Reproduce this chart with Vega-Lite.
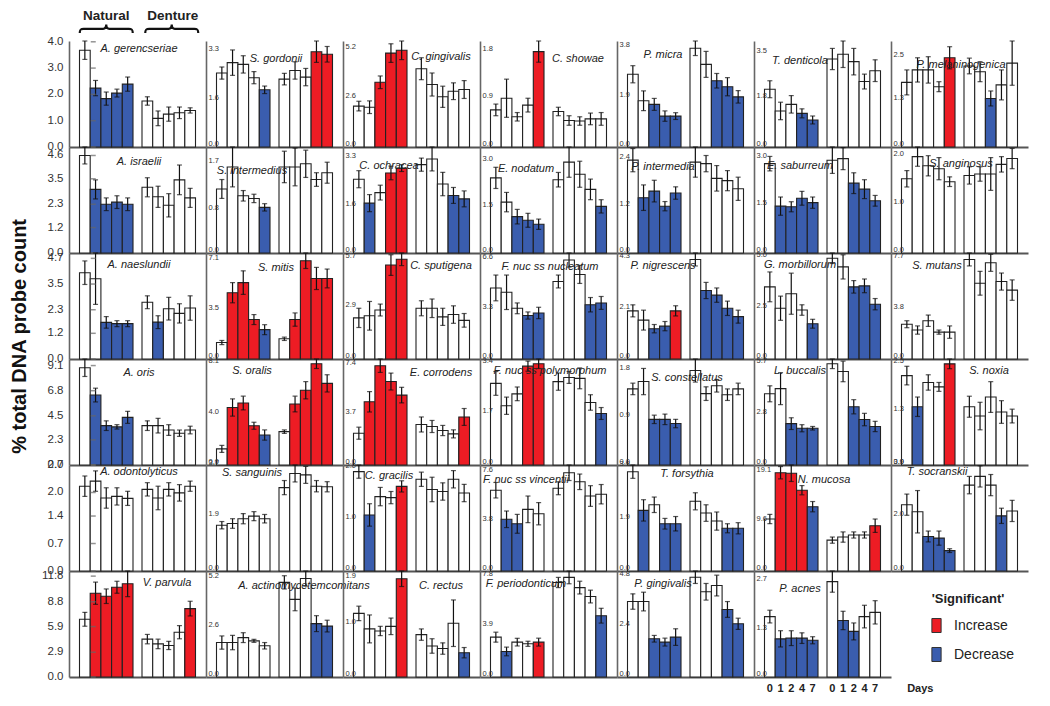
{
"$schema":"https://vega.github.io/schema/vega-lite/v6.json",
"background":"white",
"bounds":"flush",
"padding":{"left":9,"top":-2,"right":5,"bottom":5},
"title":{"text":"% total DNA probe count","orient":"left","anchor":"middle","fontSize":20,"fontWeight":"bold","color":"#111","offset":12,"dx":10},
"data":{"values":[
{"s":"A. gerencseriae","g":"N","d":0,"m":3.68,"e":0.35,"c":"n"},{"s":"A. gerencseriae","g":"N","d":1,"m":2.24,"e":0.29,"c":"d"},{"s":"A. gerencseriae","g":"N","d":2,"m":1.84,"e":0.25,"c":"d"},{"s":"A. gerencseriae","g":"N","d":4,"m":2.05,"e":0.15,"c":"d"},{"s":"A. gerencseriae","g":"N","d":7,"m":2.39,"e":0.27,"c":"d"},
{"s":"A. gerencseriae","g":"D","d":0,"m":1.75,"e":0.16,"c":"n"},{"s":"A. gerencseriae","g":"D","d":1,"m":1.09,"e":0.28,"c":"n"},{"s":"A. gerencseriae","g":"D","d":2,"m":1.25,"e":0.27,"c":"n"},{"s":"A. gerencseriae","g":"D","d":4,"m":1.30,"e":0.22,"c":"n"},{"s":"A. gerencseriae","g":"D","d":7,"m":1.39,"e":0.10,"c":"n"},
{"s":"S. gordonii","g":"N","d":0,"m":2.56,"e":0.21,"c":"n"},{"s":"S. gordonii","g":"N","d":1,"m":2.92,"e":0.44,"c":"n"},{"s":"S. gordonii","g":"N","d":2,"m":2.86,"e":0.30,"c":"n"},{"s":"S. gordonii","g":"N","d":4,"m":2.40,"e":0.21,"c":"n"},{"s":"S. gordonii","g":"N","d":7,"m":1.98,"e":0.13,"c":"d"},
{"s":"S. gordonii","g":"D","d":0,"m":2.35,"e":0.20,"c":"n"},{"s":"S. gordonii","g":"D","d":1,"m":2.65,"e":0.30,"c":"n"},{"s":"S. gordonii","g":"D","d":2,"m":2.42,"e":0.30,"c":"n"},{"s":"S. gordonii","g":"D","d":4,"m":3.30,"e":0.37,"c":"i"},{"s":"S. gordonii","g":"D","d":7,"m":3.21,"e":0.27,"c":"i"},
{"s":"C. gingivalis","g":"N","d":0,"m":2.20,"e":0.26,"c":"n"},{"s":"C. gingivalis","g":"N","d":1,"m":2.14,"e":0.34,"c":"n"},{"s":"C. gingivalis","g":"N","d":2,"m":3.48,"e":0.34,"c":"i"},{"s":"C. gingivalis","g":"N","d":4,"m":5.05,"e":0.50,"c":"i"},{"s":"C. gingivalis","g":"N","d":7,"m":5.20,"e":0.50,"c":"i"},
{"s":"C. gingivalis","g":"D","d":0,"m":4.21,"e":0.59,"c":"n"},{"s":"C. gingivalis","g":"D","d":1,"m":3.36,"e":0.62,"c":"n"},{"s":"C. gingivalis","g":"D","d":2,"m":2.70,"e":0.57,"c":"n"},{"s":"C. gingivalis","g":"D","d":4,"m":3.00,"e":0.45,"c":"n"},{"s":"C. gingivalis","g":"D","d":7,"m":3.09,"e":0.48,"c":"n"},
{"s":"C. showae","g":"N","d":0,"m":0.70,"e":0.11,"c":"n"},{"s":"C. showae","g":"N","d":1,"m":0.92,"e":0.36,"c":"n"},{"s":"C. showae","g":"N","d":2,"m":0.57,"e":0.08,"c":"n"},{"s":"C. showae","g":"N","d":4,"m":0.79,"e":0.13,"c":"n"},{"s":"C. showae","g":"N","d":7,"m":1.80,"e":0.20,"c":"i"},
{"s":"C. showae","g":"D","d":0,"m":0.67,"e":0.08,"c":"n"},{"s":"C. showae","g":"D","d":1,"m":0.50,"e":0.09,"c":"n"},{"s":"C. showae","g":"D","d":2,"m":0.49,"e":0.08,"c":"n"},{"s":"C. showae","g":"D","d":4,"m":0.53,"e":0.11,"c":"n"},{"s":"C. showae","g":"D","d":7,"m":0.53,"e":0.12,"c":"n"},
{"s":"P. micra","g":"N","d":0,"m":2.80,"e":0.33,"c":"n"},{"s":"P. micra","g":"N","d":1,"m":1.78,"e":0.38,"c":"n"},{"s":"P. micra","g":"N","d":2,"m":1.64,"e":0.23,"c":"d"},{"s":"P. micra","g":"N","d":4,"m":1.19,"e":0.20,"c":"d"},{"s":"P. micra","g":"N","d":7,"m":1.19,"e":0.13,"c":"d"},
{"s":"P. micra","g":"D","d":0,"m":3.80,"e":0.28,"c":"n"},{"s":"P. micra","g":"D","d":1,"m":3.18,"e":0.50,"c":"n"},{"s":"P. micra","g":"D","d":2,"m":2.55,"e":0.28,"c":"d"},{"s":"P. micra","g":"D","d":4,"m":2.32,"e":0.35,"c":"d"},{"s":"P. micra","g":"D","d":7,"m":1.93,"e":0.24,"c":"d"},
{"s":"T. denticola","g":"N","d":0,"m":2.18,"e":0.32,"c":"n"},{"s":"T. denticola","g":"N","d":1,"m":1.36,"e":0.33,"c":"n"},{"s":"T. denticola","g":"N","d":2,"m":1.61,"e":0.33,"c":"n"},{"s":"T. denticola","g":"N","d":4,"m":1.27,"e":0.17,"c":"d"},{"s":"T. denticola","g":"N","d":7,"m":1.02,"e":0.15,"c":"d"},
{"s":"T. denticola","g":"D","d":0,"m":3.32,"e":0.40,"c":"n"},{"s":"T. denticola","g":"D","d":1,"m":3.50,"e":0.50,"c":"n"},{"s":"T. denticola","g":"D","d":2,"m":3.22,"e":0.50,"c":"n"},{"s":"T. denticola","g":"D","d":4,"m":2.47,"e":0.28,"c":"n"},{"s":"T. denticola","g":"D","d":7,"m":2.88,"e":0.41,"c":"n"},
{"s":"P. melaninogenica","g":"N","d":0,"m":1.81,"e":0.35,"c":"n"},{"s":"P. melaninogenica","g":"N","d":1,"m":2.16,"e":0.34,"c":"n"},{"s":"P. melaninogenica","g":"N","d":2,"m":2.16,"e":0.37,"c":"n"},{"s":"P. melaninogenica","g":"N","d":4,"m":1.69,"e":0.14,"c":"n"},{"s":"P. melaninogenica","g":"N","d":7,"m":2.50,"e":0.31,"c":"i"},
{"s":"P. melaninogenica","g":"D","d":0,"m":2.27,"e":0.22,"c":"n"},{"s":"P. melaninogenica","g":"D","d":1,"m":2.11,"e":0.28,"c":"n"},{"s":"P. melaninogenica","g":"D","d":2,"m":1.36,"e":0.21,"c":"d"},{"s":"P. melaninogenica","g":"D","d":4,"m":1.74,"e":0.42,"c":"n"},{"s":"P. melaninogenica","g":"D","d":7,"m":2.35,"e":0.62,"c":"n"},
{"s":"A. israelii","g":"N","d":0,"m":4.60,"e":0.40,"c":"n"},{"s":"A. israelii","g":"N","d":1,"m":3.00,"e":0.45,"c":"d"},{"s":"A. israelii","g":"N","d":2,"m":2.30,"e":0.30,"c":"d"},{"s":"A. israelii","g":"N","d":4,"m":2.40,"e":0.30,"c":"d"},{"s":"A. israelii","g":"N","d":7,"m":2.30,"e":0.30,"c":"d"},
{"s":"A. israelii","g":"D","d":0,"m":3.10,"e":0.45,"c":"n"},{"s":"A. israelii","g":"D","d":1,"m":2.65,"e":0.50,"c":"n"},{"s":"A. israelii","g":"D","d":2,"m":2.25,"e":0.55,"c":"n"},{"s":"A. israelii","g":"D","d":4,"m":3.45,"e":0.70,"c":"n"},{"s":"A. israelii","g":"D","d":7,"m":2.60,"e":0.45,"c":"n"},
{"s":"S. intermedius","g":"N","d":0,"m":1.22,"e":0.18,"c":"n"},{"s":"S. intermedius","g":"N","d":1,"m":1.64,"e":0.38,"c":"n"},{"s":"S. intermedius","g":"N","d":2,"m":1.09,"e":0.10,"c":"n"},{"s":"S. intermedius","g":"N","d":4,"m":1.04,"e":0.08,"c":"n"},{"s":"S. intermedius","g":"N","d":7,"m":0.87,"e":0.07,"c":"d"},
{"s":"S. intermedius","g":"D","d":0,"m":1.64,"e":0.30,"c":"n"},{"s":"S. intermedius","g":"D","d":1,"m":1.64,"e":0.36,"c":"n"},{"s":"S. intermedius","g":"D","d":2,"m":1.70,"e":0.26,"c":"n"},{"s":"S. intermedius","g":"D","d":4,"m":1.40,"e":0.13,"c":"n"},{"s":"S. intermedius","g":"D","d":7,"m":1.53,"e":0.20,"c":"n"},
{"s":"C. ochracea","g":"N","d":0,"m":2.59,"e":0.30,"c":"n"},{"s":"C. ochracea","g":"N","d":1,"m":1.75,"e":0.30,"c":"d"},{"s":"C. ochracea","g":"N","d":2,"m":2.12,"e":0.26,"c":"n"},{"s":"C. ochracea","g":"N","d":4,"m":2.81,"e":0.24,"c":"i"},{"s":"C. ochracea","g":"N","d":7,"m":2.98,"e":0.12,"c":"i"},
{"s":"C. ochracea","g":"D","d":0,"m":3.10,"e":0.23,"c":"n"},{"s":"C. ochracea","g":"D","d":1,"m":3.30,"e":0.42,"c":"n"},{"s":"C. ochracea","g":"D","d":2,"m":2.42,"e":0.41,"c":"n"},{"s":"C. ochracea","g":"D","d":4,"m":2.02,"e":0.28,"c":"d"},{"s":"C. ochracea","g":"D","d":7,"m":1.90,"e":0.28,"c":"d"},
{"s":"E. nodatum","g":"N","d":0,"m":2.48,"e":0.35,"c":"n"},{"s":"E. nodatum","g":"N","d":1,"m":1.68,"e":0.32,"c":"n"},{"s":"E. nodatum","g":"N","d":2,"m":1.20,"e":0.24,"c":"d"},{"s":"E. nodatum","g":"N","d":4,"m":1.08,"e":0.23,"c":"d"},{"s":"E. nodatum","g":"N","d":7,"m":0.95,"e":0.17,"c":"d"},
{"s":"E. nodatum","g":"D","d":0,"m":2.42,"e":0.24,"c":"n"},{"s":"E. nodatum","g":"D","d":1,"m":3.00,"e":0.50,"c":"n"},{"s":"E. nodatum","g":"D","d":2,"m":2.60,"e":0.43,"c":"n"},{"s":"E. nodatum","g":"D","d":4,"m":2.10,"e":0.34,"c":"n"},{"s":"E. nodatum","g":"D","d":7,"m":1.54,"e":0.22,"c":"d"},
{"s":"P. intermedia","g":"N","d":0,"m":2.40,"e":0.30,"c":"n"},{"s":"P. intermedia","g":"N","d":1,"m":1.43,"e":0.33,"c":"d"},{"s":"P. intermedia","g":"N","d":2,"m":1.60,"e":0.28,"c":"d"},{"s":"P. intermedia","g":"N","d":4,"m":1.21,"e":0.12,"c":"d"},{"s":"P. intermedia","g":"N","d":7,"m":1.55,"e":0.16,"c":"d"},
{"s":"P. intermedia","g":"D","d":0,"m":2.35,"e":0.39,"c":"n"},{"s":"P. intermedia","g":"D","d":1,"m":2.31,"e":0.21,"c":"n"},{"s":"P. intermedia","g":"D","d":2,"m":1.93,"e":0.33,"c":"n"},{"s":"P. intermedia","g":"D","d":4,"m":1.87,"e":0.26,"c":"n"},{"s":"P. intermedia","g":"D","d":7,"m":1.66,"e":0.30,"c":"n"},
{"s":"E. saburreum","g":"N","d":0,"m":2.84,"e":0.23,"c":"n"},{"s":"E. saburreum","g":"N","d":1,"m":1.49,"e":0.29,"c":"d"},{"s":"E. saburreum","g":"N","d":2,"m":1.47,"e":0.16,"c":"d"},{"s":"E. saburreum","g":"N","d":4,"m":1.74,"e":0.22,"c":"d"},{"s":"E. saburreum","g":"N","d":7,"m":1.60,"e":0.18,"c":"d"},
{"s":"E. saburreum","g":"D","d":0,"m":2.95,"e":0.42,"c":"n"},{"s":"E. saburreum","g":"D","d":1,"m":3.00,"e":0.35,"c":"n"},{"s":"E. saburreum","g":"D","d":2,"m":2.22,"e":0.33,"c":"d"},{"s":"E. saburreum","g":"D","d":4,"m":2.03,"e":0.30,"c":"d"},{"s":"E. saburreum","g":"D","d":7,"m":1.66,"e":0.17,"c":"d"},
{"s":"S. anginosus","g":"N","d":0,"m":1.54,"e":0.17,"c":"n"},{"s":"S. anginosus","g":"N","d":1,"m":2.00,"e":0.20,"c":"n"},{"s":"S. anginosus","g":"N","d":2,"m":1.81,"e":0.21,"c":"n"},{"s":"S. anginosus","g":"N","d":4,"m":1.75,"e":0.23,"c":"n"},{"s":"S. anginosus","g":"N","d":7,"m":1.48,"e":0.10,"c":"n"},
{"s":"S. anginosus","g":"D","d":0,"m":1.61,"e":0.18,"c":"n"},{"s":"S. anginosus","g":"D","d":1,"m":1.64,"e":0.15,"c":"n"},{"s":"S. anginosus","g":"D","d":2,"m":1.64,"e":0.34,"c":"n"},{"s":"S. anginosus","g":"D","d":4,"m":1.84,"e":0.16,"c":"n"},{"s":"S. anginosus","g":"D","d":7,"m":1.96,"e":0.21,"c":"n"},
{"s":"A. naeslundii","g":"N","d":0,"m":4.03,"e":0.55,"c":"n"},{"s":"A. naeslundii","g":"N","d":1,"m":3.75,"e":1.20,"c":"n"},{"s":"A. naeslundii","g":"N","d":2,"m":1.71,"e":0.27,"c":"d"},{"s":"A. naeslundii","g":"N","d":4,"m":1.65,"e":0.14,"c":"d"},{"s":"A. naeslundii","g":"N","d":7,"m":1.65,"e":0.14,"c":"d"},
{"s":"A. naeslundii","g":"D","d":0,"m":2.65,"e":0.30,"c":"n"},{"s":"A. naeslundii","g":"D","d":1,"m":1.72,"e":0.30,"c":"d"},{"s":"A. naeslundii","g":"D","d":2,"m":2.35,"e":0.53,"c":"n"},{"s":"A. naeslundii","g":"D","d":4,"m":2.13,"e":0.45,"c":"n"},{"s":"A. naeslundii","g":"D","d":7,"m":2.38,"e":0.57,"c":"n"},
{"s":"S. mitis","g":"N","d":0,"m":1.19,"e":0.15,"c":"n"},{"s":"S. mitis","g":"N","d":1,"m":4.79,"e":0.73,"c":"i"},{"s":"S. mitis","g":"N","d":2,"m":5.52,"e":0.85,"c":"i"},{"s":"S. mitis","g":"N","d":4,"m":2.85,"e":0.36,"c":"i"},{"s":"S. mitis","g":"N","d":7,"m":2.12,"e":0.36,"c":"d"},
{"s":"S. mitis","g":"D","d":0,"m":1.46,"e":0.12,"c":"n"},{"s":"S. mitis","g":"D","d":1,"m":2.85,"e":0.48,"c":"i"},{"s":"S. mitis","g":"D","d":2,"m":7.10,"e":0.56,"c":"i"},{"s":"S. mitis","g":"D","d":4,"m":5.82,"e":0.80,"c":"i"},{"s":"S. mitis","g":"D","d":7,"m":5.82,"e":0.68,"c":"i"},
{"s":"C. sputigena","g":"N","d":0,"m":2.35,"e":0.55,"c":"n"},{"s":"C. sputigena","g":"N","d":1,"m":2.47,"e":0.82,"c":"n"},{"s":"C. sputigena","g":"N","d":2,"m":2.80,"e":0.34,"c":"n"},{"s":"C. sputigena","g":"N","d":4,"m":5.37,"e":0.59,"c":"i"},{"s":"C. sputigena","g":"N","d":7,"m":5.70,"e":0.36,"c":"i"},
{"s":"C. sputigena","g":"D","d":0,"m":2.90,"e":0.43,"c":"n"},{"s":"C. sputigena","g":"D","d":1,"m":2.90,"e":0.53,"c":"n"},{"s":"C. sputigena","g":"D","d":2,"m":2.41,"e":0.49,"c":"n"},{"s":"C. sputigena","g":"D","d":4,"m":2.54,"e":0.50,"c":"n"},{"s":"C. sputigena","g":"D","d":7,"m":2.21,"e":0.39,"c":"n"},
{"s":"F. nuc ss nucleatum","g":"N","d":0,"m":4.74,"e":0.86,"c":"n"},{"s":"F. nuc ss nucleatum","g":"N","d":1,"m":4.45,"e":1.15,"c":"n"},{"s":"F. nuc ss nucleatum","g":"N","d":2,"m":3.38,"e":0.36,"c":"n"},{"s":"F. nuc ss nucleatum","g":"N","d":4,"m":2.90,"e":0.24,"c":"d"},{"s":"F. nuc ss nucleatum","g":"N","d":7,"m":3.07,"e":0.38,"c":"d"},
{"s":"F. nuc ss nucleatum","g":"D","d":0,"m":5.17,"e":0.43,"c":"n"},{"s":"F. nuc ss nucleatum","g":"D","d":1,"m":6.60,"e":0.47,"c":"n"},{"s":"F. nuc ss nucleatum","g":"D","d":2,"m":5.64,"e":0.60,"c":"n"},{"s":"F. nuc ss nucleatum","g":"D","d":4,"m":3.62,"e":0.48,"c":"d"},{"s":"F. nuc ss nucleatum","g":"D","d":7,"m":3.74,"e":0.43,"c":"d"},
{"s":"P. nigrescens","g":"N","d":0,"m":2.08,"e":0.26,"c":"n"},{"s":"P. nigrescens","g":"N","d":1,"m":1.68,"e":0.43,"c":"n"},{"s":"P. nigrescens","g":"N","d":2,"m":1.31,"e":0.18,"c":"d"},{"s":"P. nigrescens","g":"N","d":4,"m":1.42,"e":0.20,"c":"d"},{"s":"P. nigrescens","g":"N","d":7,"m":2.08,"e":0.22,"c":"i"},
{"s":"P. nigrescens","g":"D","d":0,"m":4.30,"e":0.28,"c":"n"},{"s":"P. nigrescens","g":"D","d":1,"m":2.96,"e":0.35,"c":"d"},{"s":"P. nigrescens","g":"D","d":2,"m":2.76,"e":0.31,"c":"d"},{"s":"P. nigrescens","g":"D","d":4,"m":2.19,"e":0.31,"c":"d"},{"s":"P. nigrescens","g":"D","d":7,"m":1.83,"e":0.28,"c":"d"},
{"s":"G. morbillorum","g":"N","d":0,"m":3.58,"e":0.74,"c":"n"},{"s":"G. morbillorum","g":"N","d":1,"m":2.52,"e":0.60,"c":"n"},{"s":"G. morbillorum","g":"N","d":2,"m":3.24,"e":1.02,"c":"n"},{"s":"G. morbillorum","g":"N","d":4,"m":2.43,"e":0.26,"c":"n"},{"s":"G. morbillorum","g":"N","d":7,"m":1.75,"e":0.22,"c":"d"},
{"s":"G. morbillorum","g":"D","d":0,"m":5.00,"e":0.26,"c":"n"},{"s":"G. morbillorum","g":"D","d":1,"m":4.57,"e":0.60,"c":"n"},{"s":"G. morbillorum","g":"D","d":2,"m":3.58,"e":0.31,"c":"d"},{"s":"G. morbillorum","g":"D","d":4,"m":3.63,"e":0.34,"c":"d"},{"s":"G. morbillorum","g":"D","d":7,"m":2.72,"e":0.28,"c":"d"},
{"s":"S. mutans","g":"N","d":0,"m":2.69,"e":0.27,"c":"n"},{"s":"S. mutans","g":"N","d":1,"m":2.24,"e":0.32,"c":"n"},{"s":"S. mutans","g":"N","d":2,"m":2.96,"e":0.44,"c":"n"},{"s":"S. mutans","g":"N","d":4,"m":2.08,"e":0.16,"c":"n"},{"s":"S. mutans","g":"N","d":7,"m":2.08,"e":0.48,"c":"n"},
{"s":"S. mutans","g":"D","d":0,"m":7.70,"e":0.50,"c":"n"},{"s":"S. mutans","g":"D","d":1,"m":5.86,"e":0.92,"c":"n"},{"s":"S. mutans","g":"D","d":2,"m":7.44,"e":0.66,"c":"n"},{"s":"S. mutans","g":"D","d":4,"m":5.99,"e":0.66,"c":"n"},{"s":"S. mutans","g":"D","d":7,"m":5.33,"e":0.79,"c":"n"},
{"s":"A. oris","g":"N","d":0,"m":8.90,"e":0.80,"c":"n"},{"s":"A. oris","g":"N","d":1,"m":6.40,"e":0.63,"c":"d"},{"s":"A. oris","g":"N","d":2,"m":3.60,"e":0.44,"c":"d"},{"s":"A. oris","g":"N","d":4,"m":3.49,"e":0.20,"c":"d"},{"s":"A. oris","g":"N","d":7,"m":4.36,"e":0.55,"c":"d"},
{"s":"A. oris","g":"D","d":0,"m":3.60,"e":0.44,"c":"n"},{"s":"A. oris","g":"D","d":1,"m":3.60,"e":0.67,"c":"n"},{"s":"A. oris","g":"D","d":2,"m":3.20,"e":0.49,"c":"n"},{"s":"A. oris","g":"D","d":4,"m":2.91,"e":0.29,"c":"n"},{"s":"A. oris","g":"D","d":7,"m":3.20,"e":0.35,"c":"n"},
{"s":"S. oralis","g":"N","d":0,"m":1.29,"e":0.28,"c":"n"},{"s":"S. oralis","g":"N","d":1,"m":4.60,"e":0.69,"c":"i"},{"s":"S. oralis","g":"N","d":2,"m":4.96,"e":0.55,"c":"i"},{"s":"S. oralis","g":"N","d":4,"m":3.14,"e":0.28,"c":"i"},{"s":"S. oralis","g":"N","d":7,"m":2.40,"e":0.41,"c":"d"},
{"s":"S. oralis","g":"D","d":0,"m":2.67,"e":0.14,"c":"n"},{"s":"S. oralis","g":"D","d":1,"m":4.88,"e":0.63,"c":"i"},{"s":"S. oralis","g":"D","d":2,"m":5.98,"e":0.69,"c":"i"},{"s":"S. oralis","g":"D","d":4,"m":8.10,"e":0.38,"c":"i"},{"s":"S. oralis","g":"D","d":7,"m":6.53,"e":0.69,"c":"i"},
{"s":"E. corrodens","g":"N","d":0,"m":2.37,"e":0.45,"c":"n"},{"s":"E. corrodens","g":"N","d":1,"m":4.71,"e":0.76,"c":"i"},{"s":"E. corrodens","g":"N","d":2,"m":7.40,"e":0.50,"c":"i"},{"s":"E. corrodens","g":"N","d":4,"m":6.22,"e":0.63,"c":"i"},{"s":"E. corrodens","g":"N","d":7,"m":5.21,"e":0.58,"c":"i"},
{"s":"E. corrodens","g":"D","d":0,"m":3.02,"e":0.56,"c":"n"},{"s":"E. corrodens","g":"D","d":1,"m":2.87,"e":0.45,"c":"n"},{"s":"E. corrodens","g":"D","d":2,"m":2.57,"e":0.38,"c":"n"},{"s":"E. corrodens","g":"D","d":4,"m":2.32,"e":0.30,"c":"n"},{"s":"E. corrodens","g":"D","d":7,"m":3.58,"e":0.63,"c":"i"},
{"s":"F. nuc ss polymorphum","g":"N","d":0,"m":2.74,"e":0.40,"c":"n"},{"s":"F. nuc ss polymorphum","g":"N","d":1,"m":1.99,"e":0.29,"c":"n"},{"s":"F. nuc ss polymorphum","g":"N","d":2,"m":2.39,"e":0.23,"c":"n"},{"s":"F. nuc ss polymorphum","g":"N","d":4,"m":3.32,"e":0.17,"c":"i"},{"s":"F. nuc ss polymorphum","g":"N","d":7,"m":3.40,"e":0.16,"c":"i"},
{"s":"F. nuc ss polymorphum","g":"D","d":0,"m":2.80,"e":0.29,"c":"n"},{"s":"F. nuc ss polymorphum","g":"D","d":1,"m":2.94,"e":0.20,"c":"n"},{"s":"F. nuc ss polymorphum","g":"D","d":2,"m":2.91,"e":0.35,"c":"n"},{"s":"F. nuc ss polymorphum","g":"D","d":4,"m":2.10,"e":0.26,"c":"n"},{"s":"F. nuc ss polymorphum","g":"D","d":7,"m":1.73,"e":0.20,"c":"d"},
{"s":"S. constellatus","g":"N","d":0,"m":1.45,"e":0.11,"c":"n"},{"s":"S. constellatus","g":"N","d":1,"m":1.59,"e":0.25,"c":"n"},{"s":"S. constellatus","g":"N","d":2,"m":0.87,"e":0.08,"c":"d"},{"s":"S. constellatus","g":"N","d":4,"m":0.87,"e":0.10,"c":"d"},{"s":"S. constellatus","g":"N","d":7,"m":0.79,"e":0.08,"c":"d"},
{"s":"S. constellatus","g":"D","d":0,"m":1.80,"e":0.22,"c":"n"},{"s":"S. constellatus","g":"D","d":1,"m":1.36,"e":0.13,"c":"n"},{"s":"S. constellatus","g":"D","d":2,"m":1.51,"e":0.12,"c":"n"},{"s":"S. constellatus","g":"D","d":4,"m":1.34,"e":0.11,"c":"n"},{"s":"S. constellatus","g":"D","d":7,"m":1.45,"e":0.11,"c":"n"},
{"s":"L. buccalis","g":"N","d":0,"m":4.01,"e":0.45,"c":"n"},{"s":"L. buccalis","g":"N","d":1,"m":4.30,"e":0.90,"c":"n"},{"s":"L. buccalis","g":"N","d":2,"m":2.33,"e":0.33,"c":"d"},{"s":"L. buccalis","g":"N","d":4,"m":2.07,"e":0.20,"c":"d"},{"s":"L. buccalis","g":"N","d":7,"m":2.07,"e":0.10,"c":"d"},
{"s":"L. buccalis","g":"D","d":0,"m":5.70,"e":0.27,"c":"n"},{"s":"L. buccalis","g":"D","d":1,"m":5.27,"e":0.58,"c":"n"},{"s":"L. buccalis","g":"D","d":2,"m":3.28,"e":0.40,"c":"d"},{"s":"L. buccalis","g":"D","d":4,"m":2.56,"e":0.35,"c":"d"},{"s":"L. buccalis","g":"D","d":7,"m":2.17,"e":0.29,"c":"d"},
{"s":"S. noxia","g":"N","d":0,"m":2.21,"e":0.23,"c":"n"},{"s":"S. noxia","g":"N","d":1,"m":1.44,"e":0.24,"c":"d"},{"s":"S. noxia","g":"N","d":2,"m":2.04,"e":0.19,"c":"n"},{"s":"S. noxia","g":"N","d":4,"m":1.93,"e":0.11,"c":"n"},{"s":"S. noxia","g":"N","d":7,"m":2.50,"e":0.12,"c":"i"},
{"s":"S. noxia","g":"D","d":0,"m":1.44,"e":0.26,"c":"n"},{"s":"S. noxia","g":"D","d":1,"m":1.21,"e":0.34,"c":"n"},{"s":"S. noxia","g":"D","d":2,"m":1.68,"e":0.38,"c":"n"},{"s":"S. noxia","g":"D","d":4,"m":1.31,"e":0.28,"c":"n"},{"s":"S. noxia","g":"D","d":7,"m":1.21,"e":0.17,"c":"n"},
{"s":"A. odontolyticus","g":"N","d":0,"m":2.16,"e":0.26,"c":"n"},{"s":"A. odontolyticus","g":"N","d":1,"m":2.29,"e":0.26,"c":"n"},{"s":"A. odontolyticus","g":"N","d":2,"m":1.86,"e":0.26,"c":"n"},{"s":"A. odontolyticus","g":"N","d":4,"m":1.90,"e":0.22,"c":"n"},{"s":"A. odontolyticus","g":"N","d":7,"m":1.85,"e":0.18,"c":"n"},
{"s":"A. odontolyticus","g":"D","d":0,"m":2.08,"e":0.17,"c":"n"},{"s":"A. odontolyticus","g":"D","d":1,"m":1.86,"e":0.30,"c":"n"},{"s":"A. odontolyticus","g":"D","d":2,"m":2.08,"e":0.17,"c":"n"},{"s":"A. odontolyticus","g":"D","d":4,"m":1.99,"e":0.21,"c":"n"},{"s":"A. odontolyticus","g":"D","d":7,"m":2.16,"e":0.13,"c":"n"},
{"s":"S. sanguinis","g":"N","d":0,"m":1.62,"e":0.13,"c":"n"},{"s":"S. sanguinis","g":"N","d":1,"m":1.68,"e":0.17,"c":"n"},{"s":"S. sanguinis","g":"N","d":2,"m":1.85,"e":0.18,"c":"n"},{"s":"S. sanguinis","g":"N","d":4,"m":1.94,"e":0.16,"c":"n"},{"s":"S. sanguinis","g":"N","d":7,"m":1.85,"e":0.15,"c":"n"},
{"s":"S. sanguinis","g":"D","d":0,"m":2.95,"e":0.25,"c":"n"},{"s":"S. sanguinis","g":"D","d":1,"m":3.45,"e":0.30,"c":"n"},{"s":"S. sanguinis","g":"D","d":2,"m":3.40,"e":0.30,"c":"n"},{"s":"S. sanguinis","g":"D","d":4,"m":3.00,"e":0.20,"c":"n"},{"s":"S. sanguinis","g":"D","d":7,"m":2.98,"e":0.18,"c":"n"},
{"s":"C. gracilis","g":"N","d":0,"m":1.95,"e":0.13,"c":"n"},{"s":"C. gracilis","g":"N","d":1,"m":1.10,"e":0.22,"c":"d"},{"s":"C. gracilis","g":"N","d":2,"m":1.46,"e":0.18,"c":"n"},{"s":"C. gracilis","g":"N","d":4,"m":1.44,"e":0.12,"c":"n"},{"s":"C. gracilis","g":"N","d":7,"m":1.66,"e":0.11,"c":"i"},
{"s":"C. gracilis","g":"D","d":0,"m":1.80,"e":0.14,"c":"n"},{"s":"C. gracilis","g":"D","d":1,"m":1.60,"e":0.24,"c":"n"},{"s":"C. gracilis","g":"D","d":2,"m":1.56,"e":0.17,"c":"n"},{"s":"C. gracilis","g":"D","d":4,"m":1.80,"e":0.17,"c":"n"},{"s":"C. gracilis","g":"D","d":7,"m":1.53,"e":0.17,"c":"n"},
{"s":"F. nuc ss vincentii","g":"N","d":0,"m":6.25,"e":0.60,"c":"n"},{"s":"F. nuc ss vincentii","g":"N","d":1,"m":4.00,"e":0.64,"c":"d"},{"s":"F. nuc ss vincentii","g":"N","d":2,"m":3.65,"e":0.73,"c":"d"},{"s":"F. nuc ss vincentii","g":"N","d":4,"m":4.77,"e":1.03,"c":"n"},{"s":"F. nuc ss vincentii","g":"N","d":7,"m":4.43,"e":0.86,"c":"n"},
{"s":"F. nuc ss vincentii","g":"D","d":0,"m":6.40,"e":0.50,"c":"n"},{"s":"F. nuc ss vincentii","g":"D","d":1,"m":7.60,"e":0.60,"c":"n"},{"s":"F. nuc ss vincentii","g":"D","d":2,"m":6.90,"e":0.60,"c":"n"},{"s":"F. nuc ss vincentii","g":"D","d":4,"m":5.80,"e":0.80,"c":"n"},{"s":"F. nuc ss vincentii","g":"D","d":7,"m":5.94,"e":0.75,"c":"n"},
{"s":"T. forsythia","g":"N","d":0,"m":3.72,"e":0.25,"c":"n"},{"s":"T. forsythia","g":"N","d":1,"m":2.27,"e":0.40,"c":"d"},{"s":"T. forsythia","g":"N","d":2,"m":2.48,"e":0.29,"c":"n"},{"s":"T. forsythia","g":"N","d":4,"m":1.77,"e":0.20,"c":"d"},{"s":"T. forsythia","g":"N","d":7,"m":1.77,"e":0.27,"c":"d"},
{"s":"T. forsythia","g":"D","d":0,"m":2.61,"e":0.32,"c":"n"},{"s":"T. forsythia","g":"D","d":1,"m":2.17,"e":0.31,"c":"n"},{"s":"T. forsythia","g":"D","d":2,"m":1.87,"e":0.34,"c":"n"},{"s":"T. forsythia","g":"D","d":4,"m":1.60,"e":0.17,"c":"d"},{"s":"T. forsythia","g":"D","d":7,"m":1.60,"e":0.21,"c":"d"},
{"s":"N. mucosa","g":"N","d":0,"m":10.1,"e":0.9,"c":"n"},{"s":"N. mucosa","g":"N","d":1,"m":19.1,"e":1.2,"c":"i"},{"s":"N. mucosa","g":"N","d":2,"m":19.0,"e":1.6,"c":"i"},{"s":"N. mucosa","g":"N","d":4,"m":15.7,"e":0.9,"c":"i"},{"s":"N. mucosa","g":"N","d":7,"m":12.5,"e":1.0,"c":"d"},
{"s":"N. mucosa","g":"D","d":0,"m":6.0,"e":0.6,"c":"n"},{"s":"N. mucosa","g":"D","d":1,"m":6.6,"e":1.0,"c":"n"},{"s":"N. mucosa","g":"D","d":2,"m":7.0,"e":0.6,"c":"n"},{"s":"N. mucosa","g":"D","d":4,"m":7.0,"e":0.6,"c":"n"},{"s":"N. mucosa","g":"D","d":7,"m":8.8,"e":1.3,"c":"i"},
{"s":"T. socranskii","g":"N","d":0,"m":2.44,"e":0.39,"c":"n"},{"s":"T. socranskii","g":"N","d":1,"m":2.18,"e":0.78,"c":"n"},{"s":"T. socranskii","g":"N","d":2,"m":1.27,"e":0.20,"c":"d"},{"s":"T. socranskii","g":"N","d":4,"m":1.21,"e":0.26,"c":"d"},{"s":"T. socranskii","g":"N","d":7,"m":0.75,"e":0.07,"c":"d"},
{"s":"T. socranskii","g":"D","d":0,"m":3.16,"e":0.32,"c":"n"},{"s":"T. socranskii","g":"D","d":1,"m":3.48,"e":0.39,"c":"n"},{"s":"T. socranskii","g":"D","d":2,"m":3.16,"e":0.39,"c":"n"},{"s":"T. socranskii","g":"D","d":4,"m":2.03,"e":0.28,"c":"d"},{"s":"T. socranskii","g":"D","d":7,"m":2.21,"e":0.39,"c":"n"},
{"s":"V. parvula","g":"N","d":0,"m":6.75,"e":0.81,"c":"n"},{"s":"V. parvula","g":"N","d":1,"m":9.80,"e":1.30,"c":"i"},{"s":"V. parvula","g":"N","d":2,"m":9.45,"e":0.85,"c":"i"},{"s":"V. parvula","g":"N","d":4,"m":10.5,"e":0.70,"c":"i"},{"s":"V. parvula","g":"N","d":7,"m":10.9,"e":1.50,"c":"i"},
{"s":"V. parvula","g":"D","d":0,"m":4.43,"e":0.55,"c":"n"},{"s":"V. parvula","g":"D","d":1,"m":3.87,"e":0.56,"c":"n"},{"s":"V. parvula","g":"D","d":2,"m":3.69,"e":0.48,"c":"n"},{"s":"V. parvula","g":"D","d":4,"m":5.24,"e":0.77,"c":"n"},{"s":"V. parvula","g":"D","d":7,"m":8.00,"e":0.86,"c":"i"},
{"s":"A. actinomycetemcomitans","g":"N","d":0,"m":1.82,"e":0.35,"c":"n"},{"s":"A. actinomycetemcomitans","g":"N","d":1,"m":1.82,"e":0.38,"c":"n"},{"s":"A. actinomycetemcomitans","g":"N","d":2,"m":2.08,"e":0.26,"c":"n"},{"s":"A. actinomycetemcomitans","g":"N","d":4,"m":1.91,"e":0.08,"c":"n"},{"s":"A. actinomycetemcomitans","g":"N","d":7,"m":1.65,"e":0.17,"c":"n"},
{"s":"A. actinomycetemcomitans","g":"D","d":0,"m":5.00,"e":0.35,"c":"n"},{"s":"A. actinomycetemcomitans","g":"D","d":1,"m":4.10,"e":0.60,"c":"n"},{"s":"A. actinomycetemcomitans","g":"D","d":2,"m":5.20,"e":0.40,"c":"n"},{"s":"A. actinomycetemcomitans","g":"D","d":4,"m":2.82,"e":0.42,"c":"d"},{"s":"A. actinomycetemcomitans","g":"D","d":7,"m":2.69,"e":0.31,"c":"d"},
{"s":"C. rectus","g":"N","d":0,"m":1.23,"e":0.14,"c":"n"},{"s":"C. rectus","g":"N","d":1,"m":0.93,"e":0.27,"c":"n"},{"s":"C. rectus","g":"N","d":2,"m":0.89,"e":0.09,"c":"n"},{"s":"C. rectus","g":"N","d":4,"m":0.98,"e":0.16,"c":"n"},{"s":"C. rectus","g":"N","d":7,"m":1.90,"e":0.15,"c":"i"},
{"s":"C. rectus","g":"D","d":0,"m":0.82,"e":0.11,"c":"n"},{"s":"C. rectus","g":"D","d":1,"m":0.60,"e":0.14,"c":"n"},{"s":"C. rectus","g":"D","d":2,"m":0.55,"e":0.11,"c":"n"},{"s":"C. rectus","g":"D","d":4,"m":1.04,"e":0.45,"c":"n"},{"s":"C. rectus","g":"D","d":7,"m":0.47,"e":0.10,"c":"d"},
{"s":"F. periodonticum","g":"N","d":0,"m":3.12,"e":0.39,"c":"n"},{"s":"F. periodonticum","g":"N","d":1,"m":2.00,"e":0.34,"c":"d"},{"s":"F. periodonticum","g":"N","d":2,"m":2.73,"e":0.30,"c":"n"},{"s":"F. periodonticum","g":"N","d":4,"m":2.60,"e":0.20,"c":"n"},{"s":"F. periodonticum","g":"N","d":7,"m":2.73,"e":0.31,"c":"i"},
{"s":"F. periodonticum","g":"D","d":0,"m":7.40,"e":0.40,"c":"n"},{"s":"F. periodonticum","g":"D","d":1,"m":7.80,"e":0.50,"c":"n"},{"s":"F. periodonticum","g":"D","d":2,"m":7.00,"e":0.50,"c":"n"},{"s":"F. periodonticum","g":"D","d":4,"m":6.30,"e":0.50,"c":"n"},{"s":"F. periodonticum","g":"D","d":7,"m":4.80,"e":0.58,"c":"d"},
{"s":"P. gingivalis","g":"N","d":0,"m":3.63,"e":0.37,"c":"n"},{"s":"P. gingivalis","g":"N","d":1,"m":3.63,"e":0.45,"c":"n"},{"s":"P. gingivalis","g":"N","d":2,"m":1.84,"e":0.16,"c":"d"},{"s":"P. gingivalis","g":"N","d":4,"m":1.68,"e":0.19,"c":"d"},{"s":"P. gingivalis","g":"N","d":7,"m":1.92,"e":0.40,"c":"d"},
{"s":"P. gingivalis","g":"D","d":0,"m":4.80,"e":0.30,"c":"n"},{"s":"P. gingivalis","g":"D","d":1,"m":4.10,"e":0.40,"c":"n"},{"s":"P. gingivalis","g":"D","d":2,"m":4.40,"e":0.50,"c":"n"},{"s":"P. gingivalis","g":"D","d":4,"m":3.25,"e":0.38,"c":"d"},{"s":"P. gingivalis","g":"D","d":7,"m":2.56,"e":0.27,"c":"d"},
{"s":"P. acnes","g":"N","d":0,"m":1.71,"e":0.18,"c":"n"},{"s":"P. acnes","g":"N","d":1,"m":1.08,"e":0.23,"c":"d"},{"s":"P. acnes","g":"N","d":2,"m":1.10,"e":0.21,"c":"d"},{"s":"P. acnes","g":"N","d":4,"m":1.10,"e":0.15,"c":"d"},{"s":"P. acnes","g":"N","d":7,"m":1.04,"e":0.10,"c":"d"},
{"s":"P. acnes","g":"D","d":0,"m":2.70,"e":0.30,"c":"n"},{"s":"P. acnes","g":"D","d":1,"m":1.60,"e":0.26,"c":"d"},{"s":"P. acnes","g":"D","d":2,"m":1.29,"e":0.24,"c":"d"},{"s":"P. acnes","g":"D","d":4,"m":1.71,"e":0.32,"c":"n"},{"s":"P. acnes","g":"D","d":7,"m":1.83,"e":0.33,"c":"n"},
{"s":"A. gerencseriae","t":0},{"s":"A. gerencseriae","t":1},{"s":"A. gerencseriae","t":2},{"s":"A. gerencseriae","t":3},{"s":"A. gerencseriae","t":4},
{"s":"A. israelii","t":0},{"s":"A. israelii","t":1.2},{"s":"A. israelii","t":2.3},{"s":"A. israelii","t":3.5},{"s":"A. israelii","t":4.6},
{"s":"A. naeslundii","t":0},{"s":"A. naeslundii","t":1.2},{"s":"A. naeslundii","t":2.3},{"s":"A. naeslundii","t":3.5},{"s":"A. naeslundii","t":4.7},
{"s":"A. oris","t":0},{"s":"A. oris","t":2.3},{"s":"A. oris","t":4.5},{"s":"A. oris","t":6.8},{"s":"A. oris","t":9.1},
{"s":"A. odontolyticus","t":0},{"s":"A. odontolyticus","t":0.7},{"s":"A. odontolyticus","t":1.4},{"s":"A. odontolyticus","t":2.0},{"s":"A. odontolyticus","t":2.7},
{"s":"V. parvula","t":0},{"s":"V. parvula","t":2.9},{"s":"V. parvula","t":5.9},{"s":"V. parvula","t":8.8},{"s":"V. parvula","t":11.8},
{"s":"S. gordonii","t":0},{"s":"S. gordonii","t":1.6},{"s":"S. gordonii","t":3.3},
{"s":"C. gingivalis","t":0},{"s":"C. gingivalis","t":2.6},{"s":"C. gingivalis","t":5.2},
{"s":"C. showae","t":0},{"s":"C. showae","t":0.9},{"s":"C. showae","t":1.8},
{"s":"P. micra","t":0},{"s":"P. micra","t":1.9},{"s":"P. micra","t":3.8},
{"s":"T. denticola","t":0},{"s":"T. denticola","t":1.8},{"s":"T. denticola","t":3.5},
{"s":"P. melaninogenica","t":0},{"s":"P. melaninogenica","t":1.3},{"s":"P. melaninogenica","t":2.5},
{"s":"S. intermedius","t":0},{"s":"S. intermedius","t":0.8},{"s":"S. intermedius","t":1.7},
{"s":"C. ochracea","t":0},{"s":"C. ochracea","t":1.6},{"s":"C. ochracea","t":3.3},
{"s":"E. nodatum","t":0},{"s":"E. nodatum","t":1.5},{"s":"E. nodatum","t":3.0},
{"s":"P. intermedia","t":0},{"s":"P. intermedia","t":1.2},{"s":"P. intermedia","t":2.4},
{"s":"E. saburreum","t":0},{"s":"E. saburreum","t":1.5},{"s":"E. saburreum","t":3.0},
{"s":"S. anginosus","t":0},{"s":"S. anginosus","t":1.0},{"s":"S. anginosus","t":2.0},
{"s":"S. mitis","t":0},{"s":"S. mitis","t":3.5},{"s":"S. mitis","t":7.1},
{"s":"C. sputigena","t":0},{"s":"C. sputigena","t":2.9},{"s":"C. sputigena","t":5.7},
{"s":"F. nuc ss nucleatum","t":0},{"s":"F. nuc ss nucleatum","t":3.3},{"s":"F. nuc ss nucleatum","t":6.6},
{"s":"P. nigrescens","t":0},{"s":"P. nigrescens","t":2.1},{"s":"P. nigrescens","t":4.3},
{"s":"G. morbillorum","t":0},{"s":"G. morbillorum","t":2.5},{"s":"G. morbillorum","t":5.0},
{"s":"S. mutans","t":0},{"s":"S. mutans","t":3.8},{"s":"S. mutans","t":7.7},
{"s":"S. oralis","t":0},{"s":"S. oralis","t":4.0},{"s":"S. oralis","t":8.1},
{"s":"E. corrodens","t":0},{"s":"E. corrodens","t":3.7},{"s":"E. corrodens","t":7.4},
{"s":"F. nuc ss polymorphum","t":0},{"s":"F. nuc ss polymorphum","t":1.7},{"s":"F. nuc ss polymorphum","t":3.4},
{"s":"S. constellatus","t":0},{"s":"S. constellatus","t":0.9},{"s":"S. constellatus","t":1.8},
{"s":"L. buccalis","t":0},{"s":"L. buccalis","t":2.8},{"s":"L. buccalis","t":5.7},
{"s":"S. noxia","t":0},{"s":"S. noxia","t":1.3},{"s":"S. noxia","t":2.5},
{"s":"S. sanguinis","t":0},{"s":"S. sanguinis","t":1.9},{"s":"S. sanguinis","t":3.7},
{"s":"C. gracilis","t":0},{"s":"C. gracilis","t":1.0},{"s":"C. gracilis","t":2.0},
{"s":"F. nuc ss vincentii","t":0},{"s":"F. nuc ss vincentii","t":3.8},{"s":"F. nuc ss vincentii","t":7.6},
{"s":"T. forsythia","t":0},{"s":"T. forsythia","t":1.9},{"s":"T. forsythia","t":3.9},
{"s":"N. mucosa","t":0},{"s":"N. mucosa","t":9.6},{"s":"N. mucosa","t":19.1},
{"s":"T. socranskii","t":0},{"s":"T. socranskii","t":2.0},{"s":"T. socranskii","t":3.9},
{"s":"A. actinomycetemcomitans","t":0},{"s":"A. actinomycetemcomitans","t":2.6},{"s":"A. actinomycetemcomitans","t":5.2},
{"s":"C. rectus","t":0},{"s":"C. rectus","t":1.0},{"s":"C. rectus","t":1.9},
{"s":"F. periodonticum","t":0},{"s":"F. periodonticum","t":3.9},{"s":"F. periodonticum","t":7.8},
{"s":"P. gingivalis","t":0},{"s":"P. gingivalis","t":2.4},{"s":"P. gingivalis","t":4.8},
{"s":"P. acnes","t":0},{"s":"P. acnes","t":1.3},{"s":"P. acnes","t":2.7}
]},
"facet":{"field":"s","type":"nominal","sort":["A. gerencseriae","S. gordonii","C. gingivalis","C. showae","P. micra","T. denticola","P. melaninogenica","A. israelii","S. intermedius","C. ochracea","E. nodatum","P. intermedia","E. saburreum","S. anginosus","A. naeslundii","S. mitis","C. sputigena","F. nuc ss nucleatum","P. nigrescens","G. morbillorum","S. mutans","A. oris","S. oralis","E. corrodens","F. nuc ss polymorphum","S. constellatus","L. buccalis","S. noxia","A. odontolyticus","S. sanguinis","C. gracilis","F. nuc ss vincentii","T. forsythia","N. mucosa","T. socranskii","V. parvula","A. actinomycetemcomitans","C. rectus","F. periodonticum","P. gingivalis","P. acnes"],
 "header":{"title":null,"labelExpr":"''","labelPadding":0}},
"columns":7,
"spacing":{"row":0,"column":0},
"resolve":{"scale":{"y":"independent"},"axis":{"x":"independent","y":"independent"}},
"spec":{
 "width":137,"height":106,
 "encoding":{"x":{"field":"g","type":"nominal","title":null,"scale":{"domain":["N","D"],"paddingInner":0.144,"paddingOuter":0.168},"axis":{"labels":false,"ticks":false,"title":null,"domainColor":"#555","domainWidth":1.8}}},
 "layer":[
  {"transform":[{"filter":"isValid(datum.m)"}],
   "mark":{"type":"bar","stroke":"#222","strokeWidth":1.1},
   "encoding":{
    "xOffset":{"field":"d","type":"ordinal","scale":{"paddingInner":0,"paddingOuter":0}},
    "y":{"field":"m","type":"quantitative","title":null,"scale":{"zero":true,"nice":false},"axis":{"labels":false,"ticks":false,"title":null,"grid":false,"domainColor":"#666","domainWidth":1.6}},
    "fill":{"field":"c","type":"nominal","scale":{"domain":["i","d","n"],"range":["#ED1C24","#3A5DAE","#FFFFFF"]},
      "legend":{"title":"'Significant'","values":["i","d"],"labelExpr":"datum.value == 'i' ? 'Increase' : 'Decrease'","orient":"none","legendX":853,"legendY":552,"titleAnchor":"middle","titleFontSize":13,"titleFontWeight":"bold","titleColor":"#222","titlePadding":5,"labelFontSize":14,"labelColor":"#222","labelOffset":3,"symbolType":"M-0.33,-0.5H0.33V0.5H-0.33Z","symbolSize":784,"symbolStrokeColor":"#333","symbolStrokeWidth":1,"rowPadding":5}}}},
  {"transform":[{"filter":"isValid(datum.m)"}],
   "mark":{"type":"errorbar","ticks":{"size":5,"color":"#111"},"color":"#111","thickness":1.2},
   "encoding":{
    "xOffset":{"field":"d","type":"ordinal"},
    "y":{"field":"m","type":"quantitative","title":null},
    "yError":{"field":"e"}}},
  {"transform":[{"filter":"isValid(datum.t) && indexof(['A. gerencseriae','A. israelii','A. naeslundii','A. oris','A. odontolyticus','V. parvula'], datum.s) < 0"}],
   "mark":{"type":"text","align":"left","baseline":"bottom","dx":-8,"dy":1,"fontSize":7.5,"color":"#333"},
   "encoding":{"x":{"datum":"N","bandPosition":0},"y":{"field":"t","type":"quantitative","title":null},"text":{"field":"t","type":"quantitative","format":".1f"}}},
  {"transform":[{"filter":"isValid(datum.t) && indexof(['A. gerencseriae','A. israelii','A. naeslundii','A. oris','A. odontolyticus','V. parvula'], datum.s) >= 0"}],
   "mark":{"type":"text","align":"right","baseline":"middle","dx":-16,"fontSize":11.5,"color":"#333"},
   "encoding":{"x":{"datum":"N","bandPosition":0},"y":{"field":"t","type":"quantitative","title":null},"text":{"field":"t","type":"quantitative","format":".1f"}}},
  {"transform":[{"filter":"isValid(datum.t) && indexof(['A. gerencseriae','A. israelii','A. naeslundii','A. oris','A. odontolyticus','V. parvula'], datum.s) >= 0"}],
   "mark":{"type":"tick","orient":"horizontal","size":5,"thickness":1.5,"color":"#666","xOffset":-13},
   "encoding":{"x":{"datum":"N","bandPosition":0},"y":{"field":"t","type":"quantitative","title":null}}},
  {"transform":[{"filter":"isValid(datum.t)"},{"joinaggregate":[{"op":"max","field":"t","as":"top"}],"groupby":["s"]},{"filter":"datum.t == datum.top && indexof(['P. micra','T. denticola','S. intermedius','C. ochracea','E. nodatum','E. saburreum','P. nigrescens','G. morbillorum','S. mutans','S. oralis','C. gracilis','S. sanguinis','T. socranskii','P. gingivalis','P. acnes','P. intermedia','L. buccalis','F. nuc ss vincentii','F. periodonticum'], datum.s) >= 0"}],
   "mark":{"type":"text","align":"center","baseline":"middle","dy":7,"dx":-18,"fontSize":11,"fontStyle":"italic","color":"#222"},
   "encoding":{"x":{"datum":"N","bandPosition":1},"y":{"field":"t","type":"quantitative","title":null},"text":{"field":"s"}}},
  {"transform":[{"filter":"isValid(datum.t)"},{"joinaggregate":[{"op":"max","field":"t","as":"top"}],"groupby":["s"]},{"filter":"datum.t == datum.top && indexof(['C. gingivalis','C. showae','C. sputigena','E. corrodens','S. noxia','V. parvula','C. rectus','A. actinomycetemcomitans'], datum.s) >= 0"}],
   "mark":{"type":"text","align":"center","baseline":"middle","dy":7,"dx":34,"fontSize":11,"fontStyle":"italic","color":"#222"},
   "encoding":{"x":{"datum":"N","bandPosition":1},"y":{"field":"t","type":"quantitative","title":null},"text":{"field":"s"}}},
  {"transform":[{"filter":"isValid(datum.t)"},{"joinaggregate":[{"op":"max","field":"t","as":"top"}],"groupby":["s"]},{"filter":"datum.t == datum.top && indexof(['P. micra','T. denticola','S. intermedius','C. ochracea','E. nodatum','E. saburreum','P. nigrescens','G. morbillorum','S. mutans','S. oralis','C. gracilis','S. sanguinis','T. socranskii','P. gingivalis','P. acnes','P. intermedia','L. buccalis','F. nuc ss vincentii','F. periodonticum','C. gingivalis','C. showae','C. sputigena','E. corrodens','S. noxia','V. parvula','C. rectus','A. actinomycetemcomitans'], datum.s) < 0"}],
   "mark":{"type":"text","align":"center","baseline":"middle","dy":7,"dx":6,"fontSize":11,"fontStyle":"italic","color":"#222"},
   "encoding":{"x":{"datum":"N","bandPosition":1},"y":{"field":"t","type":"quantitative","title":null},"text":{"field":"s"}}},
  {"transform":[{"filter":"datum.s == 'P. acnes' && isValid(datum.m)"}],
   "mark":{"type":"text","baseline":"middle","dy":12,"fontSize":11,"fontWeight":"bold","color":"#222"},
   "encoding":{"xOffset":{"field":"d","type":"ordinal"},"y":{"datum":0},"text":{"field":"d"}}},
  {"transform":[{"filter":"datum.s == 'P. acnes' && datum.g == 'D' && datum.d == 7"}],
   "mark":{"type":"text","baseline":"middle","align":"left","dy":12,"dx":32,"fontSize":11,"fontWeight":"bold","color":"#222"},
   "encoding":{"xOffset":{"field":"d","type":"ordinal"},"y":{"datum":0},"text":{"value":"Days"}}},
  {"transform":[{"filter":"datum.s == 'A. gerencseriae' && datum.t == 4"}],
   "mark":{"type":"text","baseline":"middle","dy":-26,"fontSize":13.5,"fontWeight":"bold","color":"#222"},
   "encoding":{"x":{"datum":"N","bandPosition":0.5},"y":{"field":"t","type":"quantitative","title":null},"text":{"value":"Natural"}}},
  {"transform":[{"filter":"datum.s == 'A. gerencseriae' && datum.t == 4"}],
   "mark":{"type":"text","baseline":"middle","dy":-26,"dx":4,"fontSize":13.5,"fontWeight":"bold","color":"#222"},
   "encoding":{"x":{"datum":"D","bandPosition":0.5},"y":{"field":"t","type":"quantitative","title":null},"text":{"value":"Denture"}}},
  {"transform":[{"filter":"datum.s == 'A. gerencseriae' && datum.t == 4"}],
   "mark":{"type":"point","filled":false,"stroke":"#111","strokeWidth":2.2,"opacity":1,"size":2809,"yOffset":-13,
     "shape":"M-1,0.16C-1,0.03 -0.97,0 -0.85,0L-0.12,0C-0.03,0 0,-0.06 0,-0.16C0,-0.06 0.03,0 0.12,0L0.85,0C0.97,0 1,0.03 1,0.16"},
   "encoding":{"x":{"datum":"N","bandPosition":0.5},"y":{"field":"t","type":"quantitative","title":null}}},
  {"transform":[{"filter":"datum.s == 'A. gerencseriae' && datum.t == 4"}],
   "mark":{"type":"point","filled":false,"stroke":"#111","strokeWidth":2.2,"opacity":1,"size":2809,"yOffset":-13,"xOffset":3,
     "shape":"M-1,0.16C-1,0.03 -0.97,0 -0.85,0L-0.12,0C-0.03,0 0,-0.06 0,-0.16C0,-0.06 0.03,0 0.12,0L0.85,0C0.97,0 1,0.03 1,0.16"},
   "encoding":{"x":{"datum":"D","bandPosition":0.5},"y":{"field":"t","type":"quantitative","title":null}}}
 ]
},
"config":{"font":"Liberation Sans","view":{"stroke":null},"axis":{"domainColor":"#666"}}
}
